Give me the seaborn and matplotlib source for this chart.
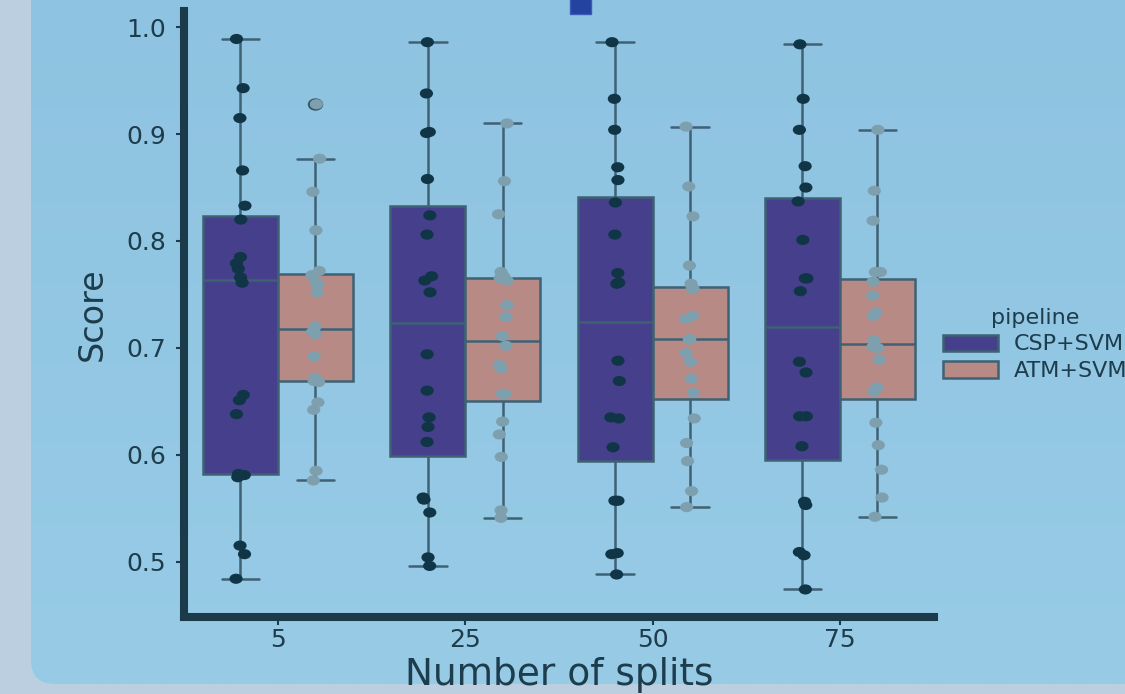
import numpy as np
import pandas as pd
import matplotlib
matplotlib.use("Agg")
import matplotlib.pyplot as plt
import seaborn as sns
from matplotlib.patches import FancyBboxPatch, Rectangle
from matplotlib.path import Path
from matplotlib.transforms import Affine2D
from matplotlib.colors import LinearSegmentedColormap

# ── data ─────────────────────────────────────────────────────────────────────
splits = ["5", "25", "50", "75"]
pipelines = ["CSP+SVM", "ATM+SVM"]

csp_5 = [0.989, 0.943, 0.915, 0.866, 0.833, 0.820, 0.785, 0.779, 0.774, 0.766,
         0.761, 0.656, 0.651, 0.638, 0.582, 0.581, 0.579, 0.515, 0.507, 0.484]
atm_5 = [0.928, 0.877, 0.846, 0.810, 0.772, 0.768, 0.762, 0.759, 0.752, 0.720,
         0.715, 0.713, 0.692, 0.672, 0.669, 0.668, 0.649, 0.642, 0.585, 0.576]
csp_25 = [0.986, 0.938, 0.902, 0.901, 0.858, 0.824, 0.806, 0.767, 0.763, 0.752,
          0.694, 0.660, 0.635, 0.626, 0.612, 0.560, 0.558, 0.546, 0.504, 0.496]
atm_25 = [0.910, 0.856, 0.825, 0.771, 0.767, 0.765, 0.763, 0.740, 0.729, 0.711,
          0.702, 0.684, 0.681, 0.657, 0.657, 0.631, 0.619, 0.598, 0.548, 0.541]
csp_50 = [0.986, 0.933, 0.904, 0.869, 0.857, 0.836, 0.806, 0.770, 0.761, 0.760,
          0.688, 0.669, 0.635, 0.634, 0.607, 0.557, 0.557, 0.508, 0.507, 0.488]
atm_50 = [0.907, 0.851, 0.823, 0.777, 0.760, 0.756, 0.755, 0.730, 0.727, 0.708,
          0.708, 0.695, 0.687, 0.671, 0.658, 0.634, 0.611, 0.594, 0.566, 0.551]
csp_75 = [0.984, 0.933, 0.904, 0.870, 0.850, 0.837, 0.801, 0.765, 0.765, 0.753,
          0.687, 0.677, 0.636, 0.636, 0.608, 0.556, 0.553, 0.509, 0.506, 0.474]
atm_75 = [0.904, 0.847, 0.819, 0.771, 0.771, 0.762, 0.749, 0.733, 0.730, 0.707,
          0.701, 0.700, 0.689, 0.663, 0.659, 0.630, 0.609, 0.586, 0.560, 0.542]

csp_scores = [csp_5, csp_25, csp_50, csp_75]
atm_scores = [atm_5, atm_25, atm_50, atm_75]

# ── colours ──────────────────────────────────────────────────────────────────
fig_bg = "#bccfe0"
panel_top, panel_bottom = "#8ec3e1", "#97cbe6"
ink = "#1d3c4c"
spine_col = "#1b3a4a"
box_colors = ["#463f8b", "#b88a86"]
dot_colors = ["#0f3546", "#7d9fae"]
line_col = "#3e6174"

# long format
frames = []
for split, csp, atm in zip(splits, csp_scores, atm_scores):
    frames.append(pd.DataFrame({"splits": split, "pipeline": pipelines[0], "Score": csp}))
    frames.append(pd.DataFrame({"splits": split, "pipeline": pipelines[1], "Score": atm}))
df = pd.concat(frames, ignore_index=True)

sns.set_style("ticks")
plt.rcParams["font.family"] = ["DejaVu Sans"]

fig = plt.figure(figsize=(11.25, 6.94), dpi=100, facecolor=fig_bg)

# rounded light-blue panel behind the chart
bg = fig.add_axes([0, 0, 1, 1], zorder=-1)
panel = FancyBboxPatch((31, -40), 1160, 724, boxstyle="round,pad=0,rounding_size=24",
                       facecolor="none", edgecolor="none")
bg.add_patch(panel)
grad = np.linspace(0, 1, 256).reshape(-1, 1)
cmap = LinearSegmentedColormap.from_list("panel", [panel_top, panel_bottom])
im = bg.imshow(grad, cmap=cmap, extent=(31, 1191, 684, -40), origin="upper", aspect="auto")
im.set_clip_path(panel)
bg.add_patch(Rectangle((570, -6), 21, 20, facecolor="#2443a0", edgecolor="#3a5cb8", lw=1))
bg.set_xlim(0, 1125)
bg.set_ylim(694, 0)
bg.axis("off")

ax = fig.add_axes([0.1638, 0.1110, 0.6661, 0.8725])
ax.set_facecolor("none")

# slightly wide dots, like the reference
ellipse = Path.unit_circle().transformed(Affine2D().scale(1.3, 1.0))

sns.boxplot(
    data=df, x="splits", y="Score", hue="pipeline",
    order=splits, hue_order=pipelines,
    palette=box_colors, saturation=1,
    linecolor=line_col, linewidth=1.8,
    flierprops=dict(marker=ellipse, markerfacecolor="none",
                    markeredgecolor="#3a5666", markersize=9.5, markeredgewidth=1.6),
    ax=ax,
)
np.random.seed(7)
sns.stripplot(
    data=df, x="splits", y="Score", hue="pipeline",
    order=splits, hue_order=pipelines,
    palette=dot_colors, dodge=True, jitter=0.05,
    marker=ellipse, size=9.5, linewidth=0,
    legend=False, ax=ax,
)

sns.despine(ax=ax)
for side in ["left", "bottom"]:
    ax.spines[side].set_linewidth(5.8)
    ax.spines[side].set_color(spine_col)
    ax.spines[side].set_capstyle("projecting")

ax.set_yticks([0.5, 0.6, 0.7, 0.8, 0.9, 1.0])
ax.tick_params(axis="both", colors=ink, labelcolor=ink, labelsize=18,
               length=5.8, width=1.5)
ax.tick_params(axis="y", pad=7)
ax.tick_params(axis="x", pad=2)

ax.set_ylabel("Score", fontsize=24, color=ink, labelpad=13)
ax.set_xlabel("Number of splits", fontsize=27, color=ink, labelpad=4)

sns.move_legend(
    ax, "center left", bbox_to_anchor=(1.0, 0.45),
    frameon=False, title="pipeline", fontsize=16, title_fontsize=16,
    handlelength=2.5, handleheight=0.75, handletextpad=0.7,
    borderaxespad=0, labelspacing=0.3,
)
leg = ax.get_legend()
leg.get_title().set_color(ink)
for t in leg.get_texts():
    t.set_color(ink)
for h in leg.legend_handles:
    h.set_edgecolor(line_col)
    h.set_linewidth(1.8)

fig.savefig("out.png", dpi=100, facecolor=fig.get_facecolor())
